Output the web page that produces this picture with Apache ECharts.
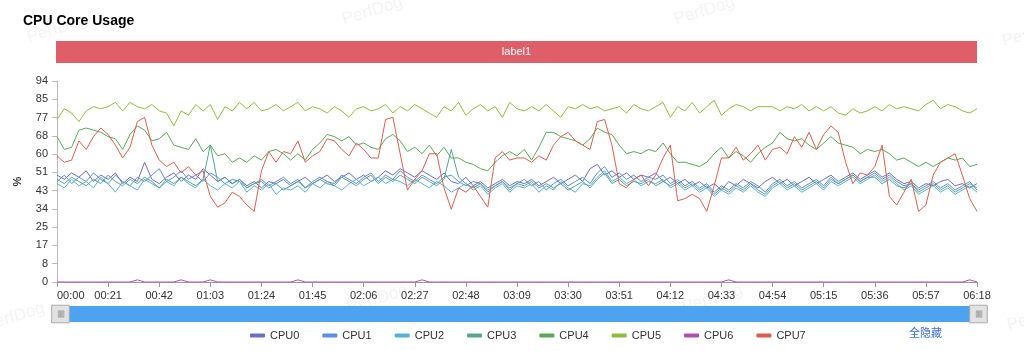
<!DOCTYPE html>
<html>
<head>
<meta charset="utf-8">
<script src="https://cdn.jsdelivr.net/npm/echarts@6/dist/echarts.min.js"></script>
<style>
  html, body { margin: 0; padding: 0; background: #fff; }
  #cpuChart { width: 1024px; height: 351px; }
</style>
</head>
<body>
<div id="cpuChart"></div>
<script>
// one sample every 3 seconds, 00:00 .. 06:18
const times = [];
for (let s = 0; s <= 378; s += 3) {
  const m = Math.floor(s / 60), sec = s % 60;
  times.push((m < 10 ? "0" : "") + m + ":" + (sec < 10 ? "0" : "") + sec);
}

const yTickLabels = ["0", "8", "17", "25", "34", "43", "51", "60", "68", "77", "85", "94"];
const seriesNames = ["CPU0", "CPU1", "CPU2", "CPU3", "CPU4", "CPU5", "CPU6", "CPU7"];
const colors = ["#6c6cc9", "#5a8ee4", "#57b0d8", "#58a48c", "#58a856", "#8cbe3c", "#b04cb2", "#d8604e"];
const bandLabel = "label1";

const cpu0 = [
  50,48,51,49,52,47,50,48,51,46, 49,47,56,48,46,49,51,47,50,48, 53,50,47,49,46,48,45,47,44,47, 46,48,
  45,47,49,46,48,50,47,49,51,48, 50,47,49,52,50,53,51,49,52,50, 48,51,47,46,49,45,47,44,46,48, 45,47,
  46,48,45,47,49,46,48,50,47,53, 55,50,52,49,51,48,50,49,51,47, 49,46,48,45,47,44,46,43,47,45, 48,46,
  44,47,49,46,48,45,47,49,46,48, 50,47,49,51,48,50,52,49,51,48, 46,47,44,46,45,47,48,45,46,44, 46
];
const cpu1 = [
  47,50,46,49,47,51,48,46,50,47, 45,49,47,50,53,47,49,52,48,50, 47,51,49,46,48,47,44,46,48,45, 47,49,
  46,48,44,47,49,47,46,50,48,46, 49,51,47,50,48,52,49,47,50,48, 46,49,50,47,45,47,46,43,45,47, 44,46,
  48,45,47,43,46,48,45,47,49,46, 51,54,49,51,48,50,47,49,48,50, 46,48,45,47,44,46,42,45,43,46, 44,47,
  45,42,46,48,45,47,44,46,48,45, 49,46,48,50,47,49,51,48,50,47, 45,46,43,45,47,44,46,43,45,47, 43
];
const cpu2 = [
  46,44,48,45,47,44,49,46,42,47, 45,43,48,46,44,47,45,49,46,44, 48,45,43,46,44,47,42,45,43,46, 41,44,
  43,45,42,46,44,47,45,43,46,48, 45,47,49,46,48,47,45,48,46,44, 47,45,42,44,46,43,45,41,44,46, 42,45,
  44,46,42,45,43,47,44,42,46,45, 49,52,47,49,46,48,45,47,46,48, 44,46,43,45,42,44,40,43,41,44, 42,45,
  42,40,44,46,43,45,42,44,46,43, 47,45,47,49,46,48,50,47,49,46, 43,45,41,43,45,42,44,41,43,45, 42
];
const cpu3 = [
  48,46,49,47,45,48,46,50,47,45, 48,46,49,47,44,48,46,49,47,45, 48,64,47,49,46,48,44,46,47,44, 46,43,
  45,47,44,46,48,46,45,49,47,45, 48,50,46,49,47,50,48,46,49,47, 45,48,62,49,46,44,46,42,45,47, 43,46,
  45,47,44,46,44,46,43,45,47,44, 48,51,46,48,45,47,46,48,45,47, 45,47,44,46,43,45,41,44,42,45, 43,46,
  43,41,45,47,44,46,43,45,47,44, 48,46,48,50,47,49,49,46,48,45, 44,46,42,44,46,43,45,42,44,46, 44
];
const cpu4 = [
  68,62,63,71,72,71,70,68,67,62, 69,73,71,66,67,70,64,63,62,67, 61,64,59,60,56,58,56,59,57,61, 62,60,57,
  60,57,62,65,69,68,66,68,64,65, 63,62,67,69,66,61,63,60,64,59, 63,58,58,56,55,53,52,56,59,61, 59,
  62,57,63,70,70,68,67,66,64,67, 72,70,69,64,60,61,60,62,61,65, 60,56,56,55,54,56,60,63,58,61, 59,56,
  60,63,65,70,67,66,67,64,62,65, 68,65,64,63,60,62,61,62,60,57, 58,56,54,56,54,56,58,57,58,54, 55
];
const cpu5 = [
  76,81,79,75,80,82,81,82,84,80, 84,82,81,83,80,79,73,80,78,83, 80,83,76,82,80,84,81,84,80,81, 83,80,82,
  84,80,82,81,79,82,80,77,81,82, 80,81,83,79,82,80,83,81,79,77, 82,80,84,78,81,83,80,82,77,84, 81,
  80,82,80,83,80,77,82,81,83,81, 82,80,81,82,79,83,81,80,82,84, 77,82,80,84,79,82,85,78,81,83, 82,80,
  82,82,82,80,82,81,83,80,82,80, 82,79,78,81,79,80,82,80,83,81, 82,81,80,83,85,81,83,82,80,79, 81
];
const cpu6 = [
  0,0,0,0,0,0,0,0,0,0,0,1,0,0,0,0,
  0,1,0,0,0,1,0,0,0,0,0,0,0,0,0,0,
  0,1,0,0,0,0,0,0,0,0,0,0,0,0,0,0,
  0,0,1,0,0,0,0,0,0,0,0,0,0,0,0,0,
  0,0,0,0,0,0,0,0,0,0,0,0,0,0,0,0,
  0,0,0,0,0,0,0,0,0,0,0,0,1,0,0,0,
  0,0,0,0,0,0,0,0,0,0,0,0,0,0,0,0,
  0,0,0,0,0,0,0,0,0,0,0,0,0,1,0
];
const cpu7 = [
  59,56,57,66,62,68,72,69,64,58, 63,75,77,64,57,54,56,51,54,50, 52,40,35,37,42,40,36,33,52,61, 56,61,60,
  66,56,59,61,67,66,62,59,65,62, 58,58,76,77,60,43,48,52,60,60, 44,34,44,42,45,40,35,58,61,57, 58,
  58,56,59,57,64,68,70,66,64,62, 75,76,64,46,44,48,50,45,50,58, 64,38,39,41,39,33,45,58,58,63, 57,60,
  64,57,62,63,60,68,63,70,62,69, 73,70,56,46,51,50,54,64,40,36, 42,48,33,36,50,56,58,60,50,39, 33
];
const cpuData = [cpu0, cpu1, cpu2, cpu3, cpu4, cpu5, cpu6, cpu7];

const yMax = 94;
const yStep = yMax / 11;

const watermarks = [[25, 30], [340, 12], [672, 12], [1000, 34], [-18, 318], [345, 300], [680, 300], [1005, 318]];

let cpuChart = echarts.init(document.getElementById("cpuChart"));

let lineSeries = seriesNames.map((name, i) => {
  return {
    name: name,
    type: "line",
    xAxisIndex: 0,
    yAxisIndex: 0,
    data: cpuData[i],
    showSymbol: false,
    symbol: "none",
    lineStyle: { width: 1, color: colors[i] },
    itemStyle: { color: colors[i] }
  };
});

// red band on its own thin grid
lineSeries.push({
  name: "band",
  type: "line",
  xAxisIndex: 1,
  yAxisIndex: 1,
  data: [],
  markArea: {
    silent: true,
    itemStyle: { color: "#de5f68" },
    label: { show: true, position: "inside", color: "#fff", fontSize: 11, fontFamily: "Liberation Sans" },
    data: [[{ name: bandLabel, xAxis: times[0] }, { xAxis: times[times.length - 1] }]]
  }
});

cpuChart.setOption({
  animation: false,
  color: colors,
  textStyle: { fontFamily: "Liberation Sans, Arial, sans-serif" },
  title: {
    text: "CPU Core Usage",
    left: 18,
    top: 9,
    textStyle: { fontSize: 14, fontWeight: "bold", color: "#000" }
  },
  graphic: watermarks.map(p => {
    return {
      type: "text",
      x: p[0],
      y: p[1],
      rotation: 0.3,
      silent: true,
      style: { text: "PerfDog", fontSize: 17, fill: "rgba(0,0,0,0.05)", fontFamily: "Liberation Sans" }
    };
  }).concat([{
    type: "text",
    right: 82,
    top: 327,
    style: { text: "全隐藏", fontSize: 11, fill: "#3b6fd9", fontFamily: "Noto Sans CJK SC" }
  }]),
  legend: {
    data: seriesNames,
    left: 245,
    top: 325,
    itemWidth: 15,
    itemHeight: 4,
    itemGap: 23,
    icon: "roundRect",
    textStyle: { fontSize: 11, color: "#333" }
  },
  grid: [
    { left: 57, right: 47, top: 81, bottom: 69, containLabel: false },
    { left: 56, right: 47, top: 41, height: 22, containLabel: false }
  ],
  xAxis: [
    {
      type: "category",
      gridIndex: 0,
      data: times,
      boundaryGap: false,
      axisLine: { lineStyle: { color: "#999" } },
      axisTick: { interval: 6, length: 5, lineStyle: { color: "#999" } },
      axisLabel: { interval: 6, color: "#333", fontSize: 11, margin: 8, alignMinLabel: "left" }
    },
    {
      type: "category",
      gridIndex: 1,
      data: times,
      boundaryGap: false,
      show: false
    }
  ],
  yAxis: [
    {
      type: "value",
      gridIndex: 0,
      min: 0,
      max: yMax,
      interval: yStep,
      name: "%",
      nameLocation: "middle",
      nameGap: 34,
      nameRotate: 90,
      nameTextStyle: { fontSize: 11, fontWeight: "bold", color: "#333" },
      axisLine: { show: true, lineStyle: { color: "#bbb" } },
      axisTick: { show: true, length: 5, lineStyle: { color: "#bbb" } },
      splitLine: { show: false },
      axisLabel: {
        color: "#333",
        fontSize: 11,
        margin: 9,
        formatter: v => yTickLabels[Math.round(v / yStep)]
      }
    },
    { type: "value", gridIndex: 1, show: false, min: 0, max: 1 }
  ],
  dataZoom: [
    {
      type: "slider",
      xAxisIndex: [0, 1],
      start: 0,
      end: 100,
      left: 57,
      right: 47,
      bottom: 29,
      height: 16,
      showDetail: false,
      brushSelect: false,
      moveHandleSize: 0,
      borderColor: "transparent",
      backgroundColor: "transparent",
      fillerColor: "#4ea3f0",
      dataBackground: {
        lineStyle: { opacity: 0 },
        areaStyle: { opacity: 0 }
      },
      selectedDataBackground: {
        lineStyle: { opacity: 0 },
        areaStyle: { opacity: 0 }
      },
      handleIcon: "path://M0,0H16V16H0Z M6,5H7V11H6Z M8,5H9V11H8Z M10,5H11V11H10Z",
      handleSize: "110%",
      handleStyle: { color: "#e2e2e2", borderColor: "#aaa", borderWidth: 1 }
    }
  ],
  series: lineSeries
});

window.addEventListener("resize", () => {
  cpuChart.resize();
});
</script>
</body>
</html>
